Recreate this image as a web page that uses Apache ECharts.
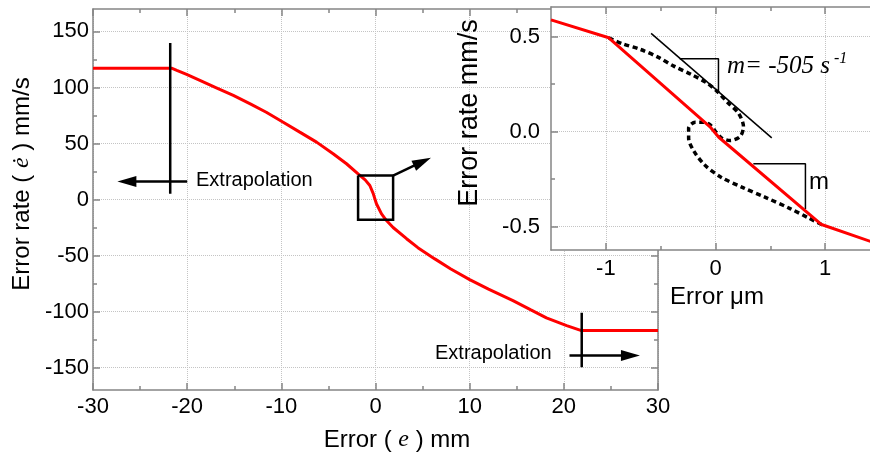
<!DOCTYPE html>
<html><head><meta charset="utf-8">
<script src="https://cdn.jsdelivr.net/npm/echarts@6/dist/echarts.min.js"></script>
<style>html,body{margin:0;padding:0;background:#fff}#c{width:870px;height:457px}</style>
</head><body><div id="c"></div>
<script>
// ---- main chart data ----
const mainX = [-30, -21.66, -21.1, -20.06, -18.65, -16.9, -15.1, -13.3, -11.6, -9.8, -8.04, -6.26, -4.5, -3.08, -1.85, -1.1, -0.6, -0.25, 0.1, 0.64, 1.17, 1.87, 3.3, 4.5, 6.3, 8.0, 10.0, 12.0, 14.6, 16.5, 18.15, 20.3, 21.87, 30];
const mainY = [117.2, 117.2, 115.2, 111.6, 106.3, 99.7, 92.9, 85.4, 77.9, 69.0, 60.1, 51.2, 40.8, 31.9, 22.9, 17.5, 12.5, 5.5, -3.8, -12.8, -18.8, -25.0, -35.0, -43.0, -53.0, -62.0, -71.5, -80.0, -90.2, -98.5, -105.6, -112.5, -117.0, -117.0];
const mainYMajor = [-150, -100, -50, 0, 50, 100, 150];
const mainYMinor = [-125, -75, -25, 25, 75, 125];
// annotations (data units)
const leftBarX = [-21.8, -21.8], leftBarY = [139.6, 5.1];
const rightBarX = [21.9, 21.9], rightBarY = [-101, -149.7];
const boxX = [-1.85, 1.87, 1.87, -1.85, -1.85], boxY = [21.4, 21.4, -18.1, -18.1, 21.4];
const arrowLeft = [[-20, 16.1], [-26.4, 16.1]];
const arrowRight = [[20.6, -139.3], [27.07, -139.3]];
const arrowBox = [[1.87, 21.4], [4.98, 33.7]];

// ---- inset data ----
const insetX = [-1.5, -0.973, -0.05, 0.03, 0.967, 1.5];
const insetY = [0.587, 0.493, 0.025, -0.03, -0.489, -0.595];
const loopX = [-0.973, -0.85, -0.685, -0.52, -0.38, -0.22, -0.078, 0.013, 0.118, 0.209, 0.255, 0.225, 0.134, 0.058, 0.0, -0.048, -0.109, -0.185, -0.245, -0.245, -0.2, -0.1, 0.05, 0.25, 0.45, 0.68, 0.85, 0.967];
const loopY = [0.493, 0.462, 0.432, 0.39, 0.344, 0.3, 0.255, 0.212, 0.149, 0.097, 0.026, -0.026, -0.047, -0.035, 0.0, 0.035, 0.049, 0.049, 0.018, -0.035, -0.1, -0.175, -0.24, -0.295, -0.345, -0.405, -0.455, -0.489];
const tangentX = [-0.587, 0.513], tangentY = [0.516, -0.033];
const tri1X = [-0.327, 0.027, 0.027], tri1Y = [0.383, 0.383, 0.212];
const tri2X = [0.345, 0.82, 0.82], tri2Y = [-0.17, -0.17, -0.407];
const insetXMajor = [-1, 0, 1], insetXMinor = [-0.5, 0.5];
const insetYMajor = [-0.5, 0, 0.5], insetYMinor = [-0.25, 0.25];

const zip = (a, b) => a.map((v, i) => [v, b[i]]);
const AX = '#858585', GRID = '#c4c4c4', SANS = 'Liberation Sans', SERIF = 'Liberation Serif';
const tickStyle = {color: AX, width: 1.5};
const lineAx = {show: true, onZero: false, lineStyle: {color: AX, width: 1.5}};
const noLine = {show: false, onZero: false};
const lbl = {fontSize: 22, color: '#000', fontFamily: SANS};

function minorAxis(base, vals) {
  return Object.assign({type: 'value', axisLine: noLine, axisLabel: {show: false}, splitLine: {show: false},
    axisTick: {show: true, inside: true, length: 4, customValues: vals, lineStyle: tickStyle}}, base);
}

const chart = echarts.init(document.getElementById('c'), null, {renderer: 'canvas'});
const option = {
  animation: false,
  backgroundColor: '#fff',
  grid: [
    {left: 93, top: 9, width: 565, height: 381, show: false, containLabel: false, outerBoundsMode: 'none'},
    {left: 551, top: 7, width: 329, height: 243, show: true, backgroundColor: '#fff', borderWidth: 0, z: 10, containLabel: false, outerBoundsMode: 'none'}
  ],
  xAxis: [
    {type: 'value', gridIndex: 0, position: 'bottom', min: -30, max: 30, interval: 10, axisLine: lineAx,
     axisTick: {inside: true, length: 7, lineStyle: tickStyle},
     minorTick: {show: true, splitNumber: 2, length: 4, lineStyle: tickStyle},
     axisLabel: Object.assign({margin: 6}, lbl),
     splitLine: {show: true, lineStyle: {type: 'dotted', color: GRID, width: 1}}},
    {type: 'value', gridIndex: 0, position: 'top', min: -30, max: 30, interval: 10, axisLine: lineAx,
     axisTick: {inside: true, length: 7, lineStyle: tickStyle},
     minorTick: {show: true, splitNumber: 2, length: 4, lineStyle: tickStyle},
     axisLabel: {show: false}, splitLine: {show: false}},
    {type: 'value', gridIndex: 1, position: 'bottom', min: -1.5, max: 1.5, z: 11, axisLine: lineAx,
     axisTick: {inside: true, length: 7, customValues: insetXMajor, lineStyle: tickStyle},
     axisLabel: Object.assign({margin: 8, customValues: insetXMajor}, lbl),
     splitLine: {show: true, lineStyle: {type: 'dotted', color: GRID, width: 1}}},
    minorAxis({gridIndex: 1, position: 'bottom', min: -1.5, max: 1.5, z: 11}, insetXMinor),
    {type: 'value', gridIndex: 1, position: 'top', min: -1.5, max: 1.5, z: 11, axisLine: lineAx,
     axisTick: {inside: true, length: 7, customValues: insetXMajor, lineStyle: tickStyle},
     axisLabel: {show: false}, splitLine: {show: false}},
    minorAxis({gridIndex: 1, position: 'top', min: -1.5, max: 1.5, z: 11}, insetXMinor)
  ],
  yAxis: [
    {type: 'value', gridIndex: 0, position: 'left', min: -170, max: 170, axisLine: lineAx,
     axisTick: {inside: true, length: 7, customValues: mainYMajor, lineStyle: tickStyle},
     axisLabel: Object.assign({margin: 4, customValues: mainYMajor}, lbl),
     splitLine: {show: true, lineStyle: {type: 'dotted', color: GRID, width: 1}}},
    minorAxis({gridIndex: 0, position: 'left', min: -170, max: 170}, mainYMinor),
    {type: 'value', gridIndex: 0, position: 'right', min: -170, max: 170, axisLine: lineAx,
     axisTick: {inside: true, length: 7, customValues: mainYMajor, lineStyle: tickStyle},
     axisLabel: {show: false}, splitLine: {show: false}},
    minorAxis({gridIndex: 0, position: 'right', min: -170, max: 170}, mainYMinor),
    {type: 'value', gridIndex: 1, position: 'left', min: -0.623, max: 0.655, z: 11, axisLine: lineAx,
     axisTick: {inside: true, length: 7, customValues: insetYMajor, lineStyle: tickStyle},
     axisLabel: Object.assign({margin: 11, customValues: insetYMajor, formatter: v => Number(v).toFixed(1)}, lbl),
     splitLine: {show: true, lineStyle: {type: 'dotted', color: GRID, width: 1}}},
    minorAxis({gridIndex: 1, position: 'left', min: -0.623, max: 0.655, z: 11}, insetYMinor)
  ],
  series: [
    {type: 'line', xAxisIndex: 0, yAxisIndex: 0, data: zip(mainX, mainY), symbol: 'none',
     lineStyle: {color: '#ff0000', width: 3}, z: 2,
     markLine: {silent: true, symbol: ['none', 'triangle'], symbolSize: [11, 19], label: {show: false},
       lineStyle: {color: '#000', width: 2.5, type: 'solid'}, z: 3,
       data: [arrowLeft, arrowRight, arrowBox].map(a => [{coord: a[0]}, {coord: a[1]}])}},
    {type: 'line', xAxisIndex: 0, yAxisIndex: 0, data: zip(leftBarX, leftBarY), symbol: 'none', lineStyle: {color: '#000', width: 2.5}, z: 3},
    {type: 'line', xAxisIndex: 0, yAxisIndex: 0, data: zip(rightBarX, rightBarY), symbol: 'none', lineStyle: {color: '#000', width: 2.5}, z: 3},
    {type: 'line', xAxisIndex: 0, yAxisIndex: 0, data: zip(boxX, boxY), symbol: 'none', lineStyle: {color: '#000', width: 2.5, join: 'miter'}, z: 3},
    {type: 'line', xAxisIndex: 2, yAxisIndex: 4, data: zip(loopX, loopY), symbol: 'none', smooth: 0.3,
     lineStyle: {color: '#000', width: 3.5, type: [5, 3.5]}, z: 12},
    {type: 'line', xAxisIndex: 2, yAxisIndex: 4, data: zip(tangentX, tangentY), symbol: 'none', lineStyle: {color: '#000', width: 1.5}, z: 12},
    {type: 'line', xAxisIndex: 2, yAxisIndex: 4, data: zip(tri1X, tri1Y), symbol: 'none', lineStyle: {color: '#000', width: 1.5}, z: 12},
    {type: 'line', xAxisIndex: 2, yAxisIndex: 4, data: zip(tri2X, tri2Y), symbol: 'none', lineStyle: {color: '#000', width: 1.5}, z: 12},
    {type: 'line', xAxisIndex: 2, yAxisIndex: 4, data: zip(insetX, insetY), symbol: 'none', lineStyle: {color: '#ff0000', width: 3}, z: 13}
  ],
  graphic: [
    {type: 'text', z: 100, x: 22, y: 184, rotation: Math.PI / 2,
     style: {text: 'Error rate ( {e|ė} ) mm/s', fontSize: 24, fontFamily: SANS, fill: '#000', align: 'center', verticalAlign: 'middle',
       rich: {e: {fontSize: 24, fontFamily: SERIF, fontStyle: 'italic', fill: '#000'}}}},
    {type: 'text', z: 100, x: 397, y: 440,
     style: {text: 'Error ( {e|e} ) mm', fontSize: 24, fontFamily: SANS, fill: '#000', align: 'center', verticalAlign: 'middle',
       rich: {e: {fontSize: 24, fontFamily: SERIF, fontStyle: 'italic', fill: '#000'}}}},
    {type: 'text', z: 100, x: 470, y: 113, rotation: Math.PI / 2,
     style: {text: 'Error rate mm/s', fontSize: 27, fontFamily: SANS, fill: '#000', align: 'center', verticalAlign: 'middle'}},
    {type: 'text', z: 100, x: 717, y: 297,
     style: {text: 'Error μm', fontSize: 24, fontFamily: SANS, fill: '#000', align: 'center', verticalAlign: 'middle'}},
    {type: 'text', z: 100, x: 196, y: 180,
     style: {text: 'Extrapolation', fontSize: 20, fontFamily: SANS, fill: '#000', align: 'left', verticalAlign: 'middle'}},
    {type: 'text', z: 100, x: 435, y: 353,
     style: {text: 'Extrapolation', fontSize: 20, fontFamily: SANS, fill: '#000', align: 'left', verticalAlign: 'middle'}},
    {type: 'text', z: 100, x: 727, y: 66,
     style: {text: 'm= -505 s{sup| -1}', fontSize: 25, fontFamily: SERIF, fontStyle: 'italic', fill: '#000', align: 'left', verticalAlign: 'middle',
       rich: {sup: {fontSize: 16, fontFamily: SERIF, fontStyle: 'italic', fill: '#000', verticalAlign: 'top', padding: [0, 0, 14, 0]}}}},
    {type: 'text', z: 100, x: 809, y: 182,
     style: {text: 'm', fontSize: 24, fontFamily: SANS, fill: '#000', align: 'left', verticalAlign: 'middle'}}
  ]
};
chart.setOption(option);
</script>
</body></html>
